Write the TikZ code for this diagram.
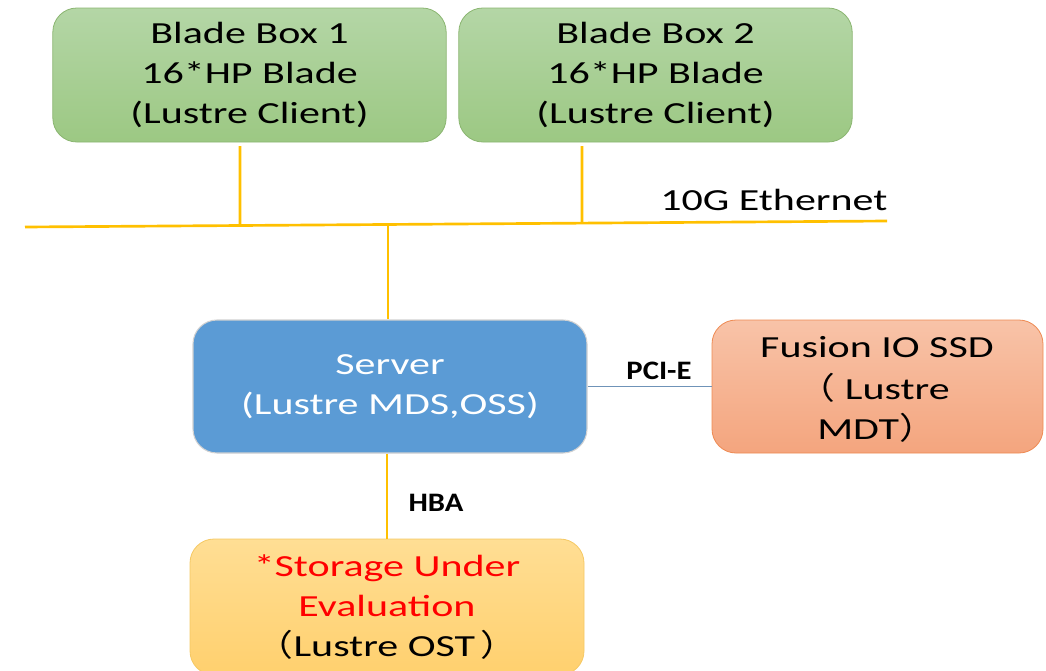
\documentclass[tikz,border=0pt]{standalone}
\usepackage{fontspec}
\setmainfont{Carlito}[FakeStretch=1.37]
\newfontfamily\cjk{Noto Sans CJK SC}[FakeStretch=1.2]
\newfontfamily\lblfont{Carlito}[FakeStretch=1.15]
\usetikzlibrary{calc}
\definecolor{bus}{HTML}{FFC000}
\definecolor{greentop}{HTML}{B4D6A6}
\definecolor{greenbot}{HTML}{9CC883}
\definecolor{greenline}{HTML}{8AB570}
\definecolor{serverblue}{HTML}{5B9BD5}
\definecolor{fusiontop}{HTML}{F8C3A8}
\definecolor{fusionbot}{HTML}{F4A57E}
\definecolor{fusionline}{HTML}{EE8A52}
\definecolor{stortop}{HTML}{FFDE94}
\definecolor{storbot}{HTML}{FFD06E}
\definecolor{storline}{HTML}{F5C863}
\definecolor{pciline}{HTML}{6F93B8}
\begin{document}
\begin{tikzpicture}[x=0.75pt,y=-0.75pt,
  box/.style={rectangle, rounded corners=18pt, align=center, inner sep=0pt,
    font=\fontsize{23}{30}\selectfont},
  bladebox/.style={box, top color=greentop, bottom color=greenbot, draw=greenline, line width=0.6pt,
    minimum width=295pt, minimum height=100.5pt},
  serverbox/.style={box, fill=serverblue, draw=white!82!black, line width=0.8pt, text=white,
    minimum width=295.5pt, minimum height=99.75pt},
  fusionbox/.style={box, top color=fusiontop, bottom color=fusionbot, draw=fusionline, line width=0.6pt,
    minimum width=248.25pt, minimum height=99.75pt},
  storbox/.style={box, top color=stortop, bottom color=storbot, draw=storline, line width=0.6pt,
    minimum width=295.5pt, minimum height=102pt},
  yline/.style={draw=bus, line width=2pt},
  plabel/.style={font=\lblfont\bfseries\fontsize{20}{22}\selectfont},
  txt/.style={font=\fontsize{23}{30}\selectfont, inner sep=0pt}]
\useasboundingbox (0,0) rectangle (1046,671);

\node[bladebox] (bb1) at (249.5,75) {Blade Box 1\\16*HP Blade\\(Lustre Client)};
\node[bladebox] (bb2) at (655.5,75) {Blade Box 2\\16*HP Blade\\(Lustre Client)};

\coordinate (busL) at (25,227);
\coordinate (busR) at (887,221);
\coordinate (j1) at ($(busL)!{(240-25)/(887-25)}!(busR)$);
\coordinate (j2) at ($(busL)!{(582-25)/(887-25)}!(busR)$);
\coordinate (j3) at ($(busL)!{(388-25)/(887-25)}!(busR)$);
\coordinate (b1top) at (240,146);
\coordinate (b2top) at (582,146);
\node[txt, anchor=base west] (eth) at (660,210) {10G Ethernet};

\node[serverbox] (srv) at (390,386.5) {Server\\(Lustre MDS,OSS)};
\node[fusionbox] (fio) at (877.5,386.5) {};
\node[txt] (fio1) at (877,347) {Fusion IO SSD};
\node[txt, anchor=east] (fio2) at (950,388) {{\cjk （}\hspace{7pt}Lustre};
\node[txt, anchor=west] (fio3) at (817,428) {MDT{\cjk ）}};

\node[storbox] (st) at (387,607) {\textcolor{red}{*Storage Under}\\\textcolor{red}{Evaluation}\\{\cjk （}Lustre OST\hspace{4pt}{\cjk ）}};

\draw[yline] (busL) -- (busR);
\draw[yline] (b1top) -- (j1);
\draw[yline] (b2top) -- (j2);
\draw[yline] (j3) -- (srv.north -| j3);
\draw[yline] (srv.south -| 387,0) -- (st.north -| 387,0);
\draw[draw=pciline, line width=0.8pt] (srv.east) -- (fio.west);

\node[plabel] (pci) at (659,371) {PCI-E};
\node[plabel] (hba) at (436,503) {HBA};
\end{tikzpicture}
\end{document}
